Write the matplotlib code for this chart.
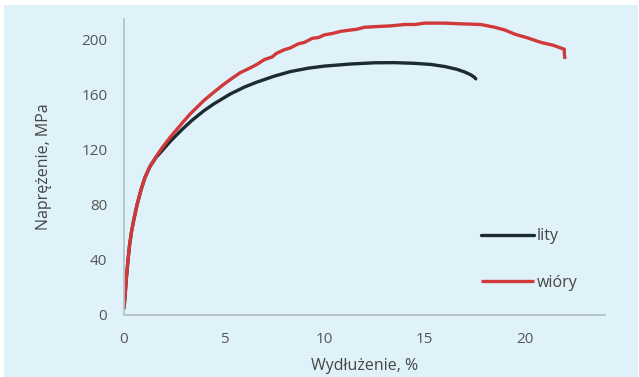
import matplotlib
matplotlib.use("Agg")
import matplotlib.pyplot as plt
from matplotlib.patches import Rectangle

# (wydłużenie %, naprężenie MPa)
lity_x = [0, 0.06, 0.12, 0.2, 0.28, 0.38, 0.5, 0.65, 0.85, 1.05, 1.3, 1.6, 1.88, 2.3, 2.88,
          3.4, 4.0, 4.5, 5.3, 6.0, 6.6, 7.5, 8.3, 9.2, 10.0, 11.3, 12.5, 13.5, 14.5, 15.3,
          16.0, 16.6, 17.0, 17.3, 17.5, 17.55]
lity_y = [5, 15, 27, 40, 51, 61, 70, 80, 91, 100, 108, 114.5, 119, 126, 134.5,
          141.5, 148.5, 153.5, 160.5, 165.5, 169, 173.5, 176.8, 179.3, 180.8, 182.3, 183.2, 183.3, 182.8, 182,
          180.5, 178.5, 176.5, 174.5, 172.5, 171.5]

wiory_x = [0, 0.06, 0.12, 0.2, 0.28, 0.38, 0.5, 0.65, 0.85, 1.05, 1.3, 1.6, 1.88, 2.3, 2.88,
           3.3, 4.0, 4.5, 4.97, 5.4, 5.8, 6.3, 6.63, 7.0, 7.4, 7.6, 7.97, 8.3, 8.7, 9.0, 9.4,
           9.7, 10.0, 10.4, 10.8, 11.3, 11.6, 12.0, 12.6, 13.3, 14.0, 14.5, 15.0, 15.5, 16.0,
           16.8, 17.8, 18.5, 19.0, 19.5, 20.2, 20.8, 21.4, 21.97, 21.97, 22.0]
wiory_y = [5, 15, 27, 40, 51, 61, 70, 80, 91, 100, 108, 115, 121, 129, 139,
           146, 156, 162, 167.5, 172, 176, 179.5, 182, 185.5, 187.5, 190, 192.5, 194, 197, 198, 201,
           201.5, 203.5, 204.5, 206, 207, 207.5, 209, 209.5, 210, 211, 211, 212, 212, 212,
           211.5, 211, 209, 207, 204, 201, 198, 196, 193, 190, 186]

x_ticks = [0, 5, 10, 15, 20]
y_ticks = [0, 40, 80, 120, 160, 200]

plt.rcParams['font.family'] = ['Open Sans', 'DejaVu Sans']
bg = '#dff2fa'

fig = plt.figure(figsize=(6.39, 3.77), dpi=100, facecolor='white')
fig.patches.append(Rectangle((4 / 639, 0), 634 / 639, 372 / 377, transform=fig.transFigure,
                             facecolor=bg, edgecolor='none', zorder=-1))
ax = fig.add_axes([124 / 639, 62 / 377, 481 / 639, 296 / 377])
ax.set_facecolor(bg)

ax.plot(lity_x, lity_y, color='#1c2a32', lw=2.4, label='lity',
        solid_capstyle='round', solid_joinstyle='round')
ax.plot(wiory_x, wiory_y, color='#d0383a', lw=2.4, label='wióry',
        solid_capstyle='butt', solid_joinstyle='round')

ax.set_xlim(0, 24)
ax.set_ylim(0, 215)
ax.set_xticks(x_ticks)
ax.set_yticks(y_ticks)
ax.tick_params(length=0, pad=12, labelsize=11, colors='#555555')

for s in ['top', 'right']:
    ax.spines[s].set_visible(False)
for s in ['left', 'bottom']:
    ax.spines[s].set_color('#b4c3cb')
    ax.spines[s].set_linewidth(1.3)

ax.set_xlabel('Wydłużenie, %', fontsize=11.5, color='#454545')
ax.set_ylabel('Naprężenie, MPa', fontsize=11.5, color='#454545')
ax.xaxis.set_label_coords(0.5, -0.145)
ax.yaxis.set_label_coords(-0.15, 0.5)

ax.legend(loc='center left', bbox_to_anchor=(0.742, 0.187), frameon=False,
          borderpad=0, borderaxespad=0, handlelength=3.3, handletextpad=0.2,
          labelspacing=1.9, fontsize=11.5, labelcolor='#454545')

fig.savefig('out.png', dpi=100, facecolor='white')
